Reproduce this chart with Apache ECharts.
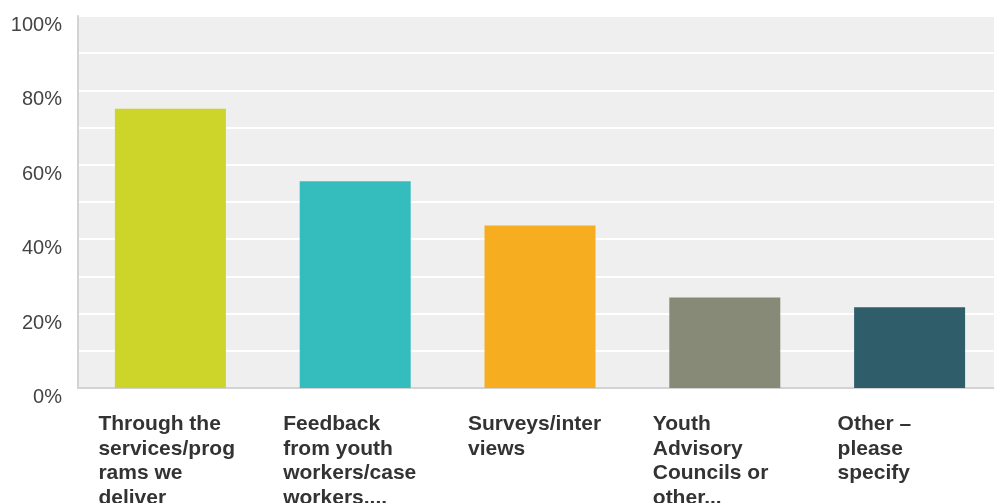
<!DOCTYPE html>
<html>
<head>
<meta charset="utf-8">
<script src="https://cdn.jsdelivr.net/npm/echarts@6/dist/echarts.min.js"></script>
<style>
  html, body { margin: 0; padding: 0; background: #ffffff; }
  #chart { width: 994px; height: 503px; }
</style>
</head>
<body>
<div id="chart"></div>
<script>
// Response options (labels wrapped as shown under each bar)
const categories = [
  'Through the\nservices/prog\nrams we\ndeliver',
  'Feedback\nfrom youth\nworkers/case\nworkers,...',
  'Surveys/inter\nviews',
  'Youth\nAdvisory\nCouncils or\nother...',
  'Other –\nplease\nspecify'
];
// Share of respondents, percent
const values = [75.1, 55.6, 43.7, 24.3, 21.7];
const barColors = ['#cdd42a', '#35bdbe', '#f6ae20', '#888a78', '#2f5e6a'];
const yTicks = [0, 20, 40, 60, 80, 100];

const chart = echarts.init(document.getElementById('chart'), null, { renderer: 'canvas' });

chart.setOption({
  animation: false,
  backgroundColor: '#ffffff',
  grid: {
    left: 78,
    top: 16,
    right: -8,
    bottom: 115,
    containLabel: false,
    outerBoundsMode: 'none',
    show: true,
    backgroundColor: '#efefef',
    borderWidth: 0
  },
  xAxis: {
    type: 'category',
    data: categories,
    axisLine: { show: true, lineStyle: { color: '#d3d3d3', width: 2 } },
    axisTick: { show: false },
    axisLabel: {
      interval: 0,
      margin: 24,
      formatter: v => '{a|' + v + '}',
      rich: {
        a: {
          width: 144,
          align: 'left',
          fontFamily: '"Liberation Sans", Arial, sans-serif',
          fontWeight: 'bold',
          fontSize: 21,
          lineHeight: 24.5,
          color: '#333333'
        }
      }
    }
  },
  yAxis: {
    type: 'value',
    min: 0,
    max: 100,
    interval: 10,
    axisLine: { show: true, lineStyle: { color: '#d3d3d3', width: 2 } },
    axisTick: { show: false },
    splitLine: { show: true, lineStyle: { color: '#ffffff', width: 2 } },
    axisLabel: {
      margin: 16,
      verticalAlign: 'top',
      lineHeight: 19,
      fontFamily: '"Liberation Sans", Arial, sans-serif',
      fontSize: 20,
      color: '#444444',
      formatter: v => (yTicks.indexOf(v) >= 0 ? v + '%' : '')
    }
  },
  series: [{
    type: 'bar',
    data: values.map((v, i) => ({ value: v, itemStyle: { color: barColors[i] } })),
    barWidth: 111
  }]
});
</script>
</body>
</html>
